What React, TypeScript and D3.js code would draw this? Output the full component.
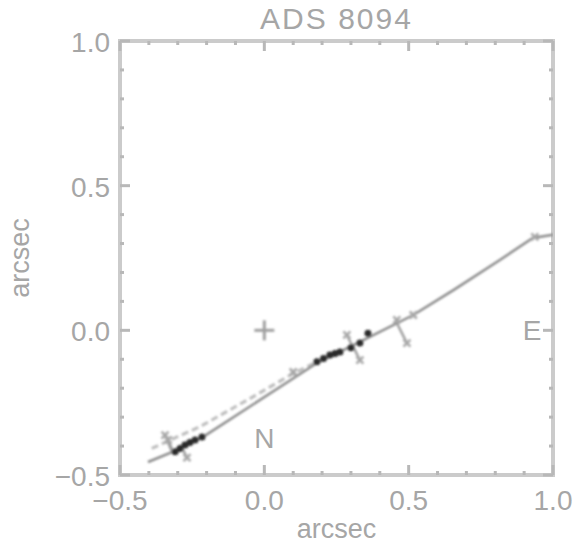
import React from "react";
import * as d3 from "d3";

const title = "ADS 8094";
const axisLabel = "arcsec";
const majorTicks = [-0.5, 0.0, 0.5, 1.0];
const minorTicks = d3.range(-5, 11).map((i) => i / 10);

// orbit trace
const orbitX = [-0.403, -0.303, -0.212, 0.181, 0.343, 0.516, 0.655, 0.816, 0.93, 1.0];
const orbitY = [-0.455, -0.414, -0.368, -0.114, -0.034, 0.053, 0.139, 0.243, 0.319, 0.33];

// faint dashed companion branch
const branchX = [-0.39, -0.223, -0.038, 0.1, 0.18];
const branchY = [-0.408, -0.333, -0.229, -0.149, -0.11];

// filled observations
const darkX = [-0.309, -0.292, -0.275, -0.258, -0.24, -0.216, 0.182, 0.205, 0.227, 0.245, 0.262, 0.3, 0.331, 0.359];
const darkY = [-0.42, -0.408, -0.396, -0.388, -0.379, -0.369, -0.109, -0.097, -0.085, -0.08, -0.075, -0.06, -0.044, -0.01];

// open observations with residuals
const lightX = [-0.333, -0.344, -0.268, 0.1, 0.286, 0.331, 0.494, 0.459, 0.516, 0.937];
const lightY = [-0.379, -0.362, -0.44, -0.144, -0.016, -0.103, -0.044, 0.036, 0.053, 0.323];

const W = 574;
const H = 546;
const L = 120, R = 553, T = 41, B = 475;

export default function App() {
  const x = d3.scaleLinear().domain([-0.5, 1.0]).range([L, R]);
  const y = d3.scaleLinear().domain([-0.5, 1.0]).range([B, T]);
  const fmt = (v: number) => d3.format(".1f")(v);

  const orbit = orbitX.map((v, i) => [x(v), y(orbitY[i])] as [number, number]);
  const branch = branchX.map((v, i) => [x(v), y(branchY[i])] as [number, number]);
  const line = d3.line();

  const nearest = (px: number, py: number): [number, number] => {
    let best: [number, number] = orbit[0];
    let bd = Infinity;
    for (let i = 0; i < orbit.length - 1; i++) {
      const [ax, ay] = orbit[i];
      const [bx, by] = orbit[i + 1];
      const dx = bx - ax, dy = by - ay;
      let t = ((px - ax) * dx + (py - ay) * dy) / (dx * dx + dy * dy);
      t = Math.max(0, Math.min(1, t));
      const qx = ax + t * dx, qy = ay + t * dy;
      const d = (qx - px) ** 2 + (qy - py) ** 2;
      if (d < bd) { bd = d; best = [qx, qy]; }
    }
    return best;
  };

  const textCol = "#a6a6a6";
  const frameCol = "#cbcbcb";
  const font = "'Liberation Sans', Arial, sans-serif";

  return (
    <svg width={W} height={H} style={{ position: "absolute", left: 0, top: 0, background: "#fff" }} fontFamily={font}>
      <defs>
        <clipPath id="plot">
          <rect x={L} y={T} width={R - L} height={B - T} />
        </clipPath>
        <filter id="soft" x="-10%" y="-10%" width="120%" height="120%">
          <feGaussianBlur stdDeviation="0.8" />
        </filter>
      </defs>
      <rect x={0} y={0} width={W} height={H} fill="#fff" />
      <text x={(L + R) / 2} y={29} textAnchor="middle" fontSize={30} fill={textCol} letterSpacing={2}>
        {title}
      </text>

      {/* frame */}
      <rect x={L} y={T} width={R - L} height={B - T} fill="none" stroke={frameCol} strokeWidth={4} />

      {/* ticks */}
      <g stroke="#b8b8b8" strokeWidth={3}>
        {minorTicks.map((t) => {
          const major = majorTicks.some((m) => Math.abs(m - t) < 1e-9);
          const len = major ? 10 : 4;
          return (
            <g key={t}>
              <line x1={x(t)} x2={x(t)} y1={B} y2={B - len} />
              <line x1={x(t)} x2={x(t)} y1={T} y2={T + len} />
              <line x1={L} x2={L + len} y1={y(t)} y2={y(t)} />
              <line x1={R} x2={R - len} y1={y(t)} y2={y(t)} />
            </g>
          );
        })}
      </g>

      {/* tick labels */}
      <g fill={textCol} fontSize={28}>
        {majorTicks.map((t) => (
          <text key={"x" + t} x={x(t)} y={B + 35} textAnchor="middle">{fmt(t)}</text>
        ))}
        {majorTicks.map((t) => (
          <text key={"y" + t} x={110} y={y(t) + 11} textAnchor="end">{fmt(t)}</text>
        ))}
      </g>

      {/* axis titles */}
      <text x={(L + R) / 2} y={538} textAnchor="middle" fontSize={27} fill={textCol}>{axisLabel}</text>
      <text transform={`translate(29,${(T + B) / 2}) rotate(-90)`} textAnchor="middle" fontSize={27} fill={textCol}>{axisLabel}</text>

      {/* orientation */}
      <text x={x(0)} y={y(-0.372) + 10} textAnchor="middle" fontSize={28} fill={textCol}>N</text>
      <text x={532} y={y(0) + 10} textAnchor="middle" fontSize={28} fill={textCol}>E</text>

      <g clipPath="url(#plot)" filter="url(#soft)">
        {/* primary */}
        <g stroke="#a0a0a0" strokeWidth={3}>
          <line x1={x(0) - 10} x2={x(0) + 10} y1={y(0)} y2={y(0)} />
          <line x1={x(0)} x2={x(0)} y1={y(0) - 10} y2={y(0) + 10} />
        </g>

        <path d={line(branch) ?? ""} fill="none" stroke="#bcbcbc" strokeWidth={3} strokeDasharray="7 4" />
        <path d={line(orbit) ?? ""} fill="none" stroke="#8c8c8c" strokeWidth={2.5} />

        {/* residuals */}
        <g stroke="#a0a0a0" strokeWidth={2.5}>
          {lightX.map((v, i) => {
            const px = x(v), py = y(lightY[i]);
            const [qx, qy] = nearest(px, py);
            return <line key={i} x1={px} y1={py} x2={qx} y2={qy} />;
          })}
        </g>
        <g stroke="#a8a8a8" strokeWidth={2.5}>
          {lightX.map((v, i) => {
            const px = x(v), py = y(lightY[i]);
            return (
              <g key={i}>
                <line x1={px - 3.5} x2={px + 3.5} y1={py - 3.5} y2={py + 3.5} />
                <line x1={px - 3.5} x2={px + 3.5} y1={py + 3.5} y2={py - 3.5} />
              </g>
            );
          })}
        </g>
        <g fill="#2a2a2a">
          {darkX.map((v, i) => (
            <circle key={i} cx={x(v)} cy={y(darkY[i])} r={3.5} />
          ))}
        </g>
      </g>
    </svg>
  );
}
